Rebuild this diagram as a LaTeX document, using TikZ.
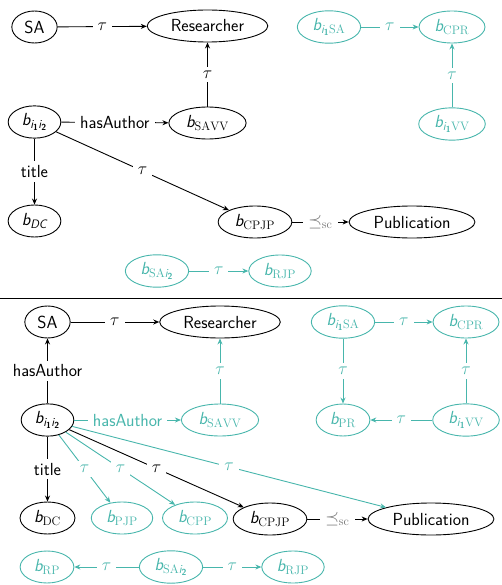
\RequirePackage{fix-cm}
\documentclass[tikz,border=0pt]{standalone}
\usepackage{amsmath}
\usepackage{fontspec}
\usetikzlibrary{shapes.geometric,arrows.meta}
\definecolor{tealc}{RGB}{72,182,172}
\newcommand\bv{\textit{b}}
\newcommand\iv[1]{\textit{i}_{\textbf{#1}}}
\begin{document}
\begin{tikzpicture}[x=1pt,y=-1pt,
  font=\sffamily\fontsize{17.5}{21}\selectfont,
  nd/.style={ellipse, draw, line width=0.9pt, inner xsep=6pt, inner ysep=3pt, minimum height=32pt},
  tnd/.style={nd, draw=tealc, text=tealc},
  ar/.style={-{Stealth[length=6pt,width=5pt]}, line width=0.9pt},
  tar/.style={ar, draw=tealc},
  lb/.style={midway, fill=white, inner xsep=5pt, inner ysep=4pt},
  tlb/.style={lb, text=tealc},
  glb/.style={lb, text=black!55}]
\useasboundingbox (0,0) rectangle (502,585);
% ---------- top panel ----------
\node[nd] (sa1) at (34.5,27) {SA};
\node[nd] (res1) at (207.5,26) {Researcher};
\node[nd] (bi1) at (34.5,122) {$\bv_{\iv1\iv2}$};
\node[nd] (savv1) at (207.5,123) {$\bv_{\mathrm{SAVV}}$};
\node[tnd] (isa1) at (329,27) {$\bv_{\iv1\mathrm{SA}}$};
\node[tnd] (cpr1) at (452,27) {$\bv_{\mathrm{CPR}}$};
\node[tnd] (ivv1) at (452,124) {$\bv_{\iv1\mathrm{VV}}$};
\node[nd] (dc1) at (34.5,221) {$\bv_{\textit{DC}}$};
\node[nd] (cpjp1) at (255,222) {$\bv_{\mathrm{CPJP}}$};
\node[nd] (pub1) at (412,222) {Publication};
\node[tnd] (sai1) at (157,271) {$\bv_{\mathrm{SA}\iv2}$};
\node[tnd] (rjp1) at (280,271) {$\bv_{\mathrm{RJP}}$};
\draw[ar] (sa1) -- node[lb]{$\tau$} (res1);
\draw[ar] (savv1) -- node[lb]{$\tau$} (res1);
\draw[ar] (bi1) -- node[lb]{hasAuthor} (savv1);
\draw[ar] (bi1) -- node[lb]{title} (dc1);
\draw[ar] (bi1) -- node[lb]{$\tau$} (cpjp1);
\draw[ar] (cpjp1) -- node[glb]{$\preceq_{\mathrm{sc}}$} (pub1);
\draw[tar] (isa1) -- node[tlb]{$\tau$} (cpr1);
\draw[tar] (ivv1) -- node[tlb]{$\tau$} (cpr1);
\draw[tar] (sai1) -- node[tlb]{$\tau$} (rjp1);
% separator
\draw[line width=0.9pt] (0,298) -- (502,298);
% ---------- bottom panel ----------
\node[nd] (sa2) at (47.5,322) {SA};
\node[nd] (res2) at (220,322) {Researcher};
\node[tnd] (isa2) at (343,322) {$\bv_{\iv1\mathrm{SA}}$};
\node[tnd] (cpr2) at (466,322) {$\bv_{\mathrm{CPR}}$};
\node[nd] (bi2) at (47.5,420) {$\bv_{\iv1\iv2}$};
\node[tnd] (savv2) at (220,420) {$\bv_{\mathrm{SAVV}}$};
\node[tnd] (pr2) at (343,420) {$\bv_{\mathrm{PR}}$};
\node[tnd] (ivv2) at (466,420) {$\bv_{\iv1\mathrm{VV}}$};
\node[nd] (dc2) at (47.5,518) {$\bv_{\mathrm{DC}}$};
\node[tnd] (pjp2) at (122,518) {$\bv_{\mathrm{PJP}}$};
\node[tnd] (cpp2) at (195,518) {$\bv_{\mathrm{CPP}}$};
\node[nd] (cpjp2) at (270,519) {$\bv_{\mathrm{CPJP}}$};
\node[nd] (pub2) at (431,519) {Publication};
\node[tnd] (rp2) at (47,567) {$\bv_{\mathrm{RP}}$};
\node[tnd] (sai2) at (171,567) {$\bv_{\mathrm{SA}\iv2}$};
\node[tnd] (rjp2) at (293,567) {$\bv_{\mathrm{RJP}}$};
\draw[ar] (sa2) -- node[lb]{$\tau$} (res2);
\draw[ar] (bi2) -- node[lb]{hasAuthor} (sa2);
\draw[tar] (savv2) -- node[tlb]{$\tau$} (res2);
\draw[tar] (bi2) -- node[tlb]{hasAuthor} (savv2);
\draw[tar] (isa2) -- node[tlb]{$\tau$} (cpr2);
\draw[tar] (isa2) -- node[tlb]{$\tau$} (pr2);
\draw[tar] (ivv2) -- node[tlb]{$\tau$} (cpr2);
\draw[tar] (ivv2) -- node[tlb]{$\tau$} (pr2);
\draw[ar] (bi2) -- node[lb]{title} (dc2);
\draw[tar] (bi2) -- node[tlb]{$\tau$} (pjp2);
\draw[tar] (bi2) -- node[tlb]{$\tau$} (cpp2);
\draw[tar] (bi2) -- node[tlb]{$\tau$} (pub2);
\draw[ar] (bi2) -- node[lb]{$\tau$} (cpjp2);
\draw[ar] (cpjp2) -- node[glb]{$\preceq_{\mathrm{sc}}$} (pub2);
\draw[tar] (sai2) -- node[tlb]{$\tau$} (rp2);
\draw[tar] (sai2) -- node[tlb]{$\tau$} (rjp2);
\end{tikzpicture}
\end{document}
